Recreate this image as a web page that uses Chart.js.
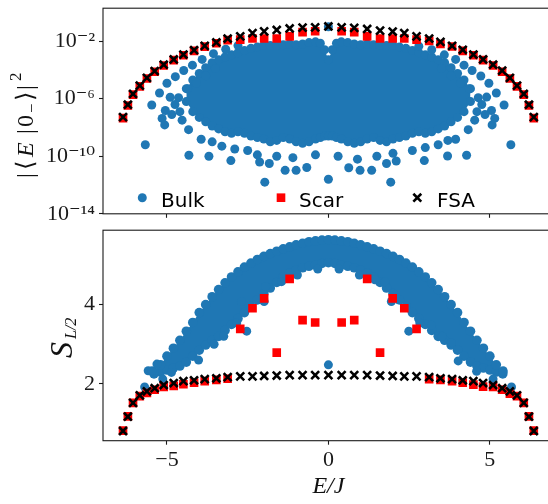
<!DOCTYPE html>
<html><head><meta charset="utf-8">
<script src="https://cdn.jsdelivr.net/npm/chart.js@4.4.0/dist/chart.umd.min.js"></script>
<style>
html,body{margin:0;padding:0;background:#fff;overflow:hidden;width:548px;height:504px;}
#wrap{position:relative;width:548px;height:504px;overflow:hidden;background:#fff;}
canvas{position:absolute;left:0;}
#c1{top:0;} #c2{top:222px;}
</style></head><body>
<div id="wrap"><canvas id="c1" width="562" height="222"></canvas><canvas id="c2" width="562" height="282"></canvas></div>
<script>
// ---------------- DATA ----------------
// eigen-energies of the FSA / scar tower (E/J)
const energies = [-6.36,-6.21,-6.05,-5.84,-5.62,-5.38,-5.10,-4.79,-4.49,-4.16,-3.83,-3.47,-3.12,-2.73,-2.35,-1.99,-1.60,-1.20,-0.80,-0.41,0,
                   0.41,0.80,1.20,1.60,1.99,2.35,2.73,3.12,3.47,3.83,4.16,4.49,4.79,5.10,5.38,5.62,5.84,6.05,6.21,6.36];
// log10 |<E|0->|^2
const fsaOverlapExp = [-7.28,-6.42,-5.67,-5.09,-4.55,-4.08,-3.64,-3.27,-2.93,-2.63,-2.33,-2.09,-1.82,-1.67,-1.44,-1.32,-1.22,-1.12,-1.06,-1.04,-0.98,
                       -1.04,-1.08,-1.15,-1.27,-1.33,-1.44,-1.67,-1.82,-2.05,-2.33,-2.60,-2.93,-3.27,-3.64,-4.05,-4.55,-5.09,-5.67,-6.42,-7.28];
const scarOverlapExp = [-7.35,-6.47,-5.72,-5.14,-4.60,-4.13,-3.69,-3.32,-2.98,-2.68,-2.38,-2.15,-1.93,-1.89,-1.82,-1.82,-1.82,-1.67,-1.37,-1.31,null,
                        -1.31,-1.37,-1.67,-1.82,-1.82,-1.82,-1.89,-1.98,-2.20,-2.37,-2.68,-2.98,-3.32,-3.69,-4.13,-4.60,-5.14,-5.72,-6.47,-7.35];
// half-chain entanglement entropy
const fsaEntropy = [0.81,1.17,1.52,1.71,1.81,1.89,1.97,2.02,2.07,2.09,2.12,2.14,2.17,2.19,2.19,2.20,2.21,2.22,2.22,2.22,2.22,
                    2.22,2.22,2.22,2.21,2.20,2.19,2.19,2.17,2.14,2.12,2.09,2.07,2.02,1.97,1.89,1.81,1.71,1.52,1.17,0.81];
const scarEntropy = [0.82,1.18,1.52,1.69,1.77,1.85,1.92,1.95,1.99,2.03,2.07,2.10,2.13,3.39,3.91,4.16,2.79,4.65,3.61,3.55,null,
                     3.55,3.61,4.65,2.79,4.16,3.91,3.39,2.12,2.10,2.07,2.03,1.98,1.93,1.92,1.85,1.75,1.69,1.52,1.18,0.82];
// bulk eigenstates: dense core envelopes (top panel, log10 overlap)
const coreOverlapE = [-4.4,-4.2,-4.0,-3.8,-3.6,-3.4,-3.2,-3.0,-2.8,-2.6,-2.4,-2.2,-2.0,-1.8,-1.6,-1.4,-1.2,-1.0,-0.8,-0.6,-0.4,-0.25,-0.12,0,
                      0.12,0.25,0.4,0.6,0.8,1.0,1.2,1.4,1.6,1.8,2.0,2.2,2.4,2.6,2.8,3.0,3.2,3.4,3.6,3.8,4.0,4.2,4.4];
const coreOverlapUpper = [-5.3,-4.7,-4.25,-3.85,-3.5,-3.3,-3.1,-2.95,-2.8,-2.65,-2.5,-2.4,-2.3,-2.3,-2.3,-2.25,-2.2,-2.25,-2.2,-2.1,-2.05,-2.15,-2.6,-3.3,
                          -2.6,-2.15,-2.05,-2.1,-2.2,-2.25,-2.2,-2.25,-2.3,-2.3,-2.3,-2.4,-2.5,-2.65,-2.8,-2.95,-3.1,-3.3,-3.5,-3.85,-4.25,-4.7,-5.3];
const coreOverlapLower = [-6.2,-6.9,-7.3,-7.6,-7.9,-8.1,-8.3,-8.4,-8.3,-8.4,-8.6,-8.7,-8.8,-9.0,-8.9,-8.7,-8.8,-9.0,-9.1,-9.0,-8.8,-8.7,-8.6,-8.6,
                          -8.6,-8.7,-8.8,-9.0,-9.1,-9.0,-8.8,-8.7,-8.9,-9.0,-8.8,-8.7,-8.6,-8.4,-8.3,-8.4,-8.3,-8.1,-7.9,-7.6,-7.3,-6.9,-6.2];
// bulk eigenstates outside the dense core: [E, log10 overlap]
const bulkOverlapPts = [
 [0,-1.0],
 [-5.67,-9.2],[-5.47,-6.44],[-5.23,-5.6],[-5.0,-4.93],[-4.74,-4.47],[-4.48,-4.04],[-4.21,-3.67],[-3.91,-3.27],[-3.56,-2.87],[-3.18,-2.56],[-2.8,-2.31],
 [5.65,-9.2],[5.44,-6.44],[5.2,-5.6],[4.97,-4.93],[4.72,-4.42],[4.45,-4.04],[4.2,-3.67],[3.94,-3.27],[3.59,-2.95],[3.2,-2.6],[2.8,-2.35],
 [-4.64,-5.93],[-4.36,-5.31],[-4.09,-4.93],[-3.8,-4.4],[-3.5,-3.9],
 [4.64,-5.93],[4.36,-5.31],[4.09,-4.93],[3.8,-4.4],[3.5,-3.9],
 [-4.9,-5.9],[-5.05,-6.82],[-5.15,-7.37],[-5.07,-7.82],[-4.53,-7.49],[-4.33,-8.15],[-3.94,-8.82],[-4.75,-6.4],[-4.85,-7.1],[-4.6,-6.9],
 [4.9,-5.89],[5.05,-6.82],[5.15,-7.37],[5.07,-7.82],[4.53,-7.49],[4.33,-8.15],[3.94,-8.82],[4.75,-6.4],[4.85,-7.1],[4.6,-6.9],
 [-4.32,-9.93],[-3.7,-10.0],[-3.02,-10.3],[-2.13,-10.4],[-1.83,-10.5],[-1.34,-10.98],[-1.0,-10.98],[-0.67,-10.78],[0,-11.6],[-1.97,-11.8],
 [1.93,-11.8],[0.63,-10.8],[0.98,-10.98],[1.34,-10.98],[1.8,-10.5],[2.1,-10.33],[2.97,-10.3],[3.69,-9.98],[4.28,-9.93],
 [-3.6,-9.0],[-3.3,-9.3],[-2.9,-9.5],[-2.5,-9.6],[-2.2,-9.9],[-1.6,-10.0],[-1.1,-10.1],[-0.4,-9.9],[0.3,-10.0],[0.9,-10.2],
 [1.5,-10.0],[2.0,-9.8],[2.6,-9.6],[3.0,-9.4],[3.4,-9.2],[3.7,-8.9]
];
// bulk eigenstates: dense arch envelopes (bottom panel, entropy)
const coreEntropyE = [-5.4,-5.2,-5.0,-4.8,-4.6,-4.4,-4.2,-4.0,-3.8,-3.6,-3.4,-3.2,-3.0,-2.8,-2.6,-2.4,-2.2,-2.0,-1.8,-1.6,-1.4,-1.2,-1.0,-0.8,-0.6,-0.4,-0.2,0,
                      0.2,0.4,0.6,0.8,1.0,1.2,1.4,1.6,1.8,2.0,2.2,2.4,2.6,2.8,3.0,3.2,3.4,3.6,3.8,4.0,4.2,4.4,4.6,4.8,5.0,5.2,5.4];
const coreEntropyUpper = [2.30,2.48,2.70,2.90,3.10,3.33,3.55,3.80,4.00,4.20,4.38,4.55,4.70,4.83,4.95,5.05,5.14,5.22,5.29,5.35,5.41,5.46,5.51,5.55,5.59,5.61,5.63,5.64,
                          5.63,5.61,5.59,5.55,5.51,5.46,5.41,5.35,5.29,5.22,5.14,5.05,4.95,4.83,4.70,4.55,4.38,4.20,4.00,3.80,3.55,3.33,3.10,2.90,2.70,2.48,2.30];
const coreEntropyLower = [2.25,2.30,2.35,2.40,2.45,2.55,2.70,2.85,2.98,3.10,3.20,3.35,3.50,3.65,3.80,3.95,4.12,4.28,4.42,4.56,4.70,4.80,4.87,4.93,4.97,5.00,5.04,5.06,
                          5.04,5.00,4.97,4.93,4.87,4.80,4.70,4.56,4.42,4.28,4.12,3.95,3.80,3.65,3.50,3.35,3.20,3.10,2.98,2.85,2.70,2.55,2.45,2.40,2.35,2.30,2.25];
// bulk eigenstates outside the arch: [E, S]
const bulkEntropyPts = [
 [0,2.48],
 [-5.69,1.92],[-5.58,2.33],[-5.46,2.33],[-5.31,2.5],[-5.13,2.12],[-4.86,2.29],[-4.02,2.6],[-3.54,3.0],[-3.24,3.2],[-2.84,3.54],[-2.53,3.33],
 [-2.69,4.08],[-1.99,4.08],[-1.94,4.46],[-1.45,4.58],[-0.96,4.75],[-0.33,4.9],
 [5.67,1.92],[5.41,2.33],[5.1,2.12],[4.59,2.32],[4.02,2.58],[3.81,3.04],[3.52,3.2],[3.19,3.48],[2.83,3.54],[2.49,3.33],
 [1.95,4.08],[1.75,4.58],[1.44,4.63],[0.96,4.75],[0.33,4.9]
];
// ticks
const xTicks = [-5, 0, 5];
const xTickLabels = ['\u22125', '0', '5'];
const overlapTickExps = [-14, -10, -6, -2];
const overlapTickLabels = ['10\u207B\u00B9\u2074', '10\u207B\u00B9\u2070', '10\u207B\u2076', '10\u207B\u00B2'];
const entropyTicks = [2, 4];
const entropyTickLabels = ['2', '4'];

// ---------------- STYLE / HELPERS ----------------
const BLUE = '#1f77b4', RED = '#ff0000', BLACK = '#000000';
const SERIF = '"Liberation Serif", "DejaVu Serif", serif';
const SANS = '"DejaVu Sans", sans-serif';
const pow10 = v => Math.pow(10, v);
const ident = v => v;
const series = (xs, ys, f) => xs.map((x, i) => ys[i] == null ? null : {x: x, y: f(ys[i])}).filter(Boolean);
const pairs = (arr, f) => arr.map(p => ({x: p[0], y: f(p[1])}));

function drawMarker(ctx, ds, x, y) {
  const r = ds.pointRadius;
  ctx.save();
  if (ds.pointStyle === 'circle') {
    ctx.fillStyle = ds.pointBackgroundColor; ctx.beginPath(); ctx.arc(x, y, r, 0, Math.PI * 2); ctx.fill();
  } else if (ds.pointStyle === 'rect') {
    const h = r * Math.SQRT1_2; ctx.fillStyle = ds.pointBackgroundColor; ctx.fillRect(x - h, y - h, 2 * h, 2 * h);
  } else {
    const h = r * Math.SQRT1_2; ctx.strokeStyle = ds.pointBorderColor; ctx.lineWidth = ds.pointBorderWidth;
    ctx.beginPath(); ctx.moveTo(x - h, y - h); ctx.lineTo(x + h, y + h); ctx.moveTo(x - h, y + h); ctx.lineTo(x + h, y - h); ctx.stroke();
  }
  ctx.restore();
}
const framePlugin = {
  id: 'frame',
  afterDatasetsDraw(chart) {
    const {ctx, chartArea: a} = chart;
    ctx.save(); ctx.strokeStyle = '#1a1a1a'; ctx.lineWidth = 1.1;
    ctx.strokeRect(a.left, a.top, a.right - a.left, a.bottom - a.top);
    ctx.restore();
  }
};
const legendPlugin = {
  id: 'insideLegend',
  afterDraw(chart, args, opts) {
    if (!opts || !opts.items) return;
    const ctx = chart.ctx;
    ctx.save();
    ctx.font = opts.font; ctx.textBaseline = 'alphabetic'; ctx.textAlign = 'left';
    for (const it of opts.items) {
      const ds = chart.data.datasets.find(d => d.label === it.label);
      drawMarker(ctx, ds, it.mx, opts.my);
      ctx.fillStyle = '#000';
      ctx.fillText(it.label, it.tx, opts.baseline);
    }
    ctx.restore();
  }
};
const richTitlePlugin = {
  id: 'richTitle',
  afterDraw(chart, args, opts) {
    if (!opts || !opts.segments) return;
    const ctx = chart.ctx;
    ctx.save();
    ctx.translate(opts.x, opts.y);
    ctx.rotate(-Math.PI / 2);
    ctx.fillStyle = '#111'; ctx.textBaseline = 'alphabetic'; ctx.textAlign = 'left';
    for (const s of opts.segments) { ctx.font = s.font; ctx.fillText(s.t, s.u, s.dy || 0); }
    ctx.restore();
  }
};
const gridCfg = {display: true, drawOnChartArea: false, drawTicks: true, tickLength: 4, tickWidth: 1.1, tickColor: '#1a1a1a'};
const fitY = s => { s.width = 103; s.paddingTop = 0; s.paddingBottom = 0; };
const fitX = h => s => { s.height = h; s.paddingLeft = 0; s.paddingRight = 0; };

function scatterSet(label, data, style, radius, color, order, extra) {
  return Object.assign({
    type: 'scatter', label: label, data: data, showLine: false, order: order,
    pointStyle: style, pointRadius: radius, pointHoverRadius: radius,
    pointBackgroundColor: color, pointBorderColor: color, pointBorderWidth: 0,
    backgroundColor: color, borderColor: color
  }, extra || {});
}
function envelopeSet(label, data, fill, radius, order) {
  return {
    type: 'line', label: label, data: data, order: order, fill: fill,
    borderWidth: 0, tension: 0, backgroundColor: BLUE, borderColor: BLUE,
    pointStyle: 'circle', pointRadius: radius, pointHoverRadius: radius,
    pointBackgroundColor: BLUE, pointBorderWidth: 0
  };
}

// ---------------- TOP PANEL ----------------
new Chart(document.getElementById('c1'), {
  type: 'scatter',
  data: {datasets: [
    scatterSet('FSA', series(energies, fsaOverlapExp, pow10), 'crossRot', 5.6, BLACK, 0, {pointBorderWidth: 2.6}),
    scatterSet('Scar', series(energies, scarOverlapExp, pow10), 'rect', 6.1, RED, 1),
    scatterSet('Bulk', pairs(bulkOverlapPts, pow10), 'circle', 4.5, BLUE, 2),
    envelopeSet('Bulk core upper', series(coreOverlapE, coreOverlapUpper, pow10), false, 4.5, 3),
    envelopeSet('Bulk core lower', series(coreOverlapE, coreOverlapLower, pow10), '-1', 4.5, 3)
  ]},
  options: {
    responsive: false, maintainAspectRatio: false, animation: false, devicePixelRatio: 1, events: [],
    layout: {padding: {left: 0, top: 3.5, right: 8, bottom: 0}},
    plugins: {
      legend: {display: false}, tooltip: {enabled: false},
      insideLegend: {font: '20px ' + SANS, my: 197.7, baseline: 206.5,
        items: [{label: 'Bulk', mx: 142.3, tx: 161}, {label: 'Scar', mx: 281, tx: 299}, {label: 'FSA', mx: 417.3, tx: 437}]},
      richTitle: {x: 33, y: 178, segments: [
        {t: '|', u: 0, font: '24px ' + SERIF},
        {t: '\u27E8', u: 8, font: '24px ' + SERIF},
        {t: 'E', u: 21, font: 'italic 24px ' + SERIF},
        {t: '|', u: 44, font: '24px ' + SERIF},
        {t: '0', u: 51, font: '24px ' + SERIF},
        {t: '\u2212', u: 65, dy: 4, font: '17px ' + SERIF},
        {t: '\u27E9', u: 77, font: '24px ' + SERIF},
        {t: '|', u: 88, font: '24px ' + SERIF},
        {t: '2', u: 97, dy: -12, font: '17px ' + SERIF}
      ]}
    },
    scales: {
      x: {type: 'linear', min: -6.98, max: 6.98, border: {display: false}, grid: gridCfg,
          ticks: {callback: () => '', autoSkip: false, maxRotation: 0},
          afterBuildTicks: s => { s.ticks = xTicks.map(v => ({value: v})); },
          afterFit: fitX(5)},
      y: {type: 'logarithmic', min: 1e-14, max: Math.pow(10, 0.29), border: {display: false}, grid: gridCfg,
          ticks: {font: {family: SERIF, size: 22}, color: '#1a1a1a', padding: 4, autoSkip: false,
                  callback: (v, i) => overlapTickLabels[i]},
          afterBuildTicks: s => { s.ticks = overlapTickExps.map(e => ({value: Math.pow(10, e)})); },
          afterFit: fitY}
    }
  },
  plugins: [framePlugin, legendPlugin, richTitlePlugin]
});

// ---------------- BOTTOM PANEL ----------------
new Chart(document.getElementById('c2'), {
  type: 'scatter',
  data: {datasets: [
    scatterSet('FSA', series(energies, fsaEntropy, ident), 'crossRot', 5.6, BLACK, 0, {pointBorderWidth: 2.6}),
    scatterSet('Scar', series(energies, scarEntropy, ident), 'rect', 6.1, RED, 1),
    scatterSet('Bulk', pairs(bulkEntropyPts, ident), 'circle', 4.5, BLUE, 2),
    envelopeSet('Bulk arch upper', series(coreEntropyE, coreEntropyUpper, ident), false, 4.8, 3),
    envelopeSet('Bulk arch lower', series(coreEntropyE, coreEntropyLower, ident), '-1', 4.8, 3)
  ]},
  options: {
    responsive: false, maintainAspectRatio: false, animation: false, devicePixelRatio: 1, events: [],
    layout: {padding: {left: 0, top: 6, right: 8, bottom: 0}},
    plugins: {
      legend: {display: false}, tooltip: {enabled: false},
      richTitle: {x: 72, y: 136, segments: [
        {t: 'S', u: 0, font: 'italic 32px ' + SERIF},
        {t: 'L/2', u: 19, dy: 4, font: 'italic 16px ' + SERIF}
      ]}
    },
    scales: {
      x: {type: 'linear', min: -6.98, max: 6.98, border: {display: false}, grid: gridCfg,
          ticks: {font: {family: SERIF, size: 22}, color: '#1a1a1a', padding: 2, autoSkip: false, maxRotation: 0,
                  callback: (v, i) => xTickLabels[i]},
          title: {display: true, text: 'E/J', color: '#111', font: {family: SERIF, size: 24, style: 'italic'}, padding: {top: 0, bottom: 3}},
          afterBuildTicks: s => { s.ticks = xTicks.map(v => ({value: v})); },
          afterFit: fitX(63.3)},
      y: {type: 'linear', min: 0.565, max: 5.88, border: {display: false}, grid: gridCfg,
          ticks: {font: {family: SERIF, size: 22}, color: '#1a1a1a', padding: 4, autoSkip: false,
                  callback: (v, i) => entropyTickLabels[i]},
          afterBuildTicks: s => { s.ticks = entropyTicks.map(v => ({value: v})); },
          afterFit: fitY}
    }
  },
  plugins: [framePlugin, richTitlePlugin]
});
</script>
</body></html>
